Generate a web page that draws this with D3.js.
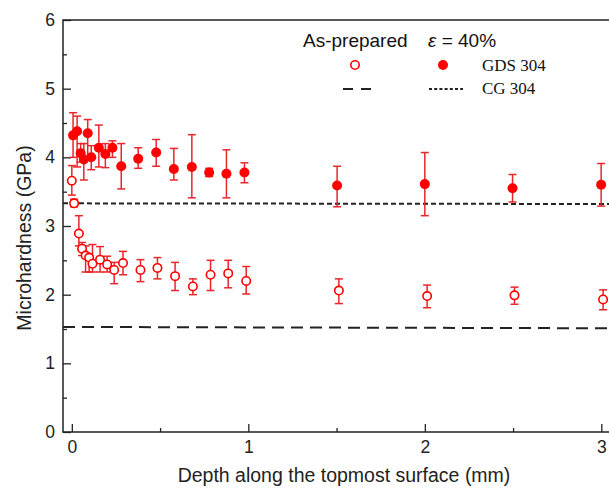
<!DOCTYPE html>
<html><head><meta charset="utf-8">
<script src="https://cdn.jsdelivr.net/npm/d3@7"></script>
<style>body{margin:0;background:#fff}svg{display:block}</style>
</head><body>
<svg id="c" width="609" height="490"></svg>
<script>
// ε = 40% GDS 304 (filled)
const gdsX   = [0.007,0.03,0.05,0.068,0.09,0.11,0.153,0.19,0.23,0.28,0.376,0.478,0.578,0.68,0.778,0.876,0.978,1.503,2.0,2.497,2.999];
const gdsY   = [4.32,4.38,4.06,3.97,4.35,4.0,4.14,4.05,4.14,3.87,3.98,4.07,3.83,3.86,3.78,3.76,3.78,3.59,3.61,3.55,3.60];
const gdsTop = [4.65,4.60,4.20,4.20,4.55,4.17,4.47,4.20,4.24,4.20,4.14,4.26,4.13,4.33,3.84,4.11,3.92,3.87,4.07,3.75,3.91];
const gdsBot = [4.00,3.86,3.93,3.67,4.00,3.82,3.86,3.85,4.00,3.54,3.84,3.87,3.67,3.41,3.72,3.41,3.63,3.28,3.15,3.35,3.29];
// As-prepared GDS 304 (open)
const asX   = [0.0,0.013,0.04,0.058,0.078,0.098,0.117,0.16,0.2,0.24,0.29,0.389,0.485,0.585,0.686,0.786,0.886,0.988,1.513,2.013,2.508,3.01];
const asY   = [3.66,3.33,2.89,2.67,2.57,2.54,2.45,2.51,2.44,2.36,2.46,2.36,2.39,2.27,2.12,2.29,2.31,2.20,2.06,1.98,1.99,1.93];
const asTop = [3.88,3.39,3.15,2.76,2.71,2.58,2.73,2.70,2.56,2.47,2.63,2.51,2.54,2.47,2.23,2.50,2.50,2.41,2.23,2.14,2.11,2.07];
const asBot = [3.45,3.28,2.71,2.57,2.33,2.33,2.33,2.33,2.33,2.16,2.29,2.19,2.23,2.06,2.00,2.06,2.10,2.01,1.87,1.81,1.86,1.78];
// CG 304 reference lines
const cg40X = [-0.05,3.15], cg40Y = [3.33,3.32];
const cgAsX = [-0.05,3.15], cgAsY = [1.53,1.51];
const xTicks = [0,1,2,3], xMinor = [0.5,1.5,2.5];
const yTicks = [0,1,2,3,4,5,6], yMinor = [0.5,1.5,2.5,3.5,4.5,5.5];

const svg = d3.select("#c");
const x = d3.scaleLinear().domain([-0.05,3.15]).range([63,627.8]);
const y = d3.scaleLinear().domain([0,6]).range([432,20]);
const red = "#ff0000", ebar = "#e8262b", axc = "#222";
const sans = "Liberation Sans, Arial, sans-serif", serif = "Liberation Serif, Times New Roman, serif";

// frame
svg.append("rect").attr("x",x(-0.05)).attr("y",y(6)).attr("width",x(3.15)-x(-0.05)).attr("height",y(0)-y(6))
  .attr("fill","none").attr("stroke",axc).attr("stroke-width",1.5);

// axes with inward ticks
const xa = svg.append("g").attr("transform",`translate(0,${y(0)})`)
  .call(d3.axisBottom(x).tickValues(xTicks).tickSizeInner(-8).tickSizeOuter(0).tickPadding(9).tickFormat(d3.format("d")));
const xm = svg.append("g").attr("transform",`translate(0,${y(0)})`)
  .call(d3.axisBottom(x).tickValues(xMinor).tickSizeInner(-4).tickSizeOuter(0).tickFormat(""));
const ya = svg.append("g").attr("transform",`translate(${x(-0.05)},0)`)
  .call(d3.axisLeft(y).tickValues(yTicks).tickSizeInner(-8).tickSizeOuter(0).tickPadding(8).tickFormat(d3.format("d")));
const ym = svg.append("g").attr("transform",`translate(${x(-0.05)},0)`)
  .call(d3.axisLeft(y).tickValues(yMinor).tickSizeInner(-4).tickSizeOuter(0).tickFormat(""));
[xa,xm,ya,ym].forEach(a=>{
  a.select(".domain").remove();
  a.selectAll("line").attr("stroke",axc).attr("stroke-width",1.3);
  a.selectAll("text").attr("font-family",sans).attr("font-size",17.5).attr("fill","#222");
});

// reference lines
const line = d3.line().x(d=>x(d[0])).y(d=>y(d[1]));
svg.append("path").datum(d3.zip(cgAsX,cgAsY)).attr("d",line).attr("fill","none")
  .attr("stroke","#222").attr("stroke-width",2).attr("stroke-dasharray","12,7");
svg.append("path").datum(d3.zip(cg40X,cg40Y)).attr("d",line).attr("fill","none")
  .attr("stroke","#222").attr("stroke-width",2).attr("stroke-dasharray","5,3");

function errbars(xs,ys,tops,bots){
  const gg = svg.append("g").attr("stroke",ebar).attr("stroke-width",1.5);
  xs.forEach((xv,i)=>{
    gg.append("line").attr("x1",x(xv)).attr("x2",x(xv)).attr("y1",y(tops[i])).attr("y2",y(bots[i]));
    [tops[i],bots[i]].forEach(v=>gg.append("line").attr("x1",x(xv)-4).attr("x2",x(xv)+4).attr("y1",y(v)).attr("y2",y(v)));
  });
}
errbars(asX,asY,asTop,asBot);
errbars(gdsX,gdsY,gdsTop,gdsBot);
svg.append("g").selectAll("circle").data(d3.zip(asX,asY)).join("circle")
  .attr("cx",d=>x(d[0])).attr("cy",d=>y(d[1])).attr("r",4.2)
  .attr("fill","#fff").attr("stroke",red).attr("stroke-width",1.6);
svg.append("g").selectAll("circle").data(d3.zip(gdsX,gdsY)).join("circle")
  .attr("cx",d=>x(d[0])).attr("cy",d=>y(d[1])).attr("r",5)
  .attr("fill",red);

// axis titles
svg.append("text").attr("x",344).attr("y",482).attr("text-anchor","middle")
  .attr("font-family",sans).attr("font-size",19.5).attr("fill","#222").text("Depth along the topmost surface (mm)");
svg.append("text").attr("transform","translate(31,238) rotate(-90)").attr("text-anchor","middle")
  .attr("font-family",sans).attr("font-size",19.5).attr("fill","#222").text("Microhardness (GPa)");

// legend
const lg = svg.append("g");
lg.append("text").attr("x",303).attr("y",47).attr("font-family",sans).attr("font-size",19).attr("fill","#111").text("As-prepared");
const eps = lg.append("text").attr("x",428).attr("y",47).attr("font-family",sans).attr("font-size",19).attr("fill","#111");
eps.append("tspan").attr("font-style","italic").text("ε");
eps.append("tspan").text(" = 40%");
lg.append("circle").attr("cx",355).attr("cy",65).attr("r",4.2).attr("fill","#fff").attr("stroke",red).attr("stroke-width",1.6);
lg.append("circle").attr("cx",443).attr("cy",65).attr("r",5).attr("fill",red);
lg.append("text").attr("x",482).attr("y",71).attr("font-family",serif).attr("font-size",17).attr("fill","#111").text("GDS 304");
lg.append("line").attr("x1",343).attr("x2",373).attr("y1",89).attr("y2",89).attr("stroke","#222").attr("stroke-width",2).attr("stroke-dasharray","10,8");
lg.append("line").attr("x1",429).attr("x2",463).attr("y1",89).attr("y2",89).attr("stroke","#222").attr("stroke-width",2).attr("stroke-dasharray","3,2.2");
lg.append("text").attr("x",482).attr("y",94).attr("font-family",serif).attr("font-size",17).attr("fill","#111").text("CG 304");
</script>
</body></html>
